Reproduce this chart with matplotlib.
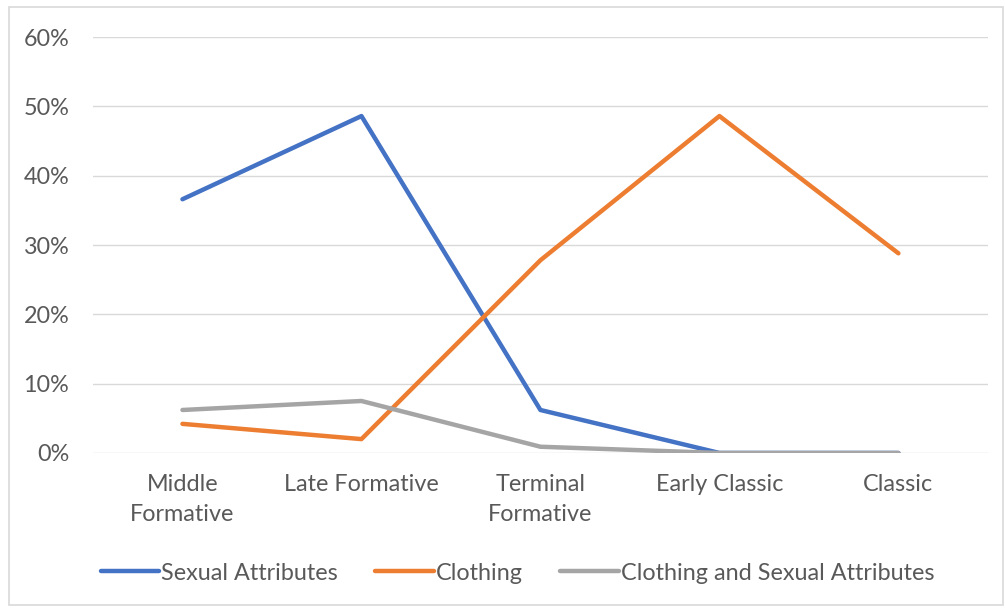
import matplotlib.pyplot as plt
from matplotlib.patches import Rectangle
from matplotlib.ticker import PercentFormatter

# Data
periods = ["Middle\nFormative", "Late Formative", "Terminal\nFormative", "Early Classic", "Classic"]
sexual = [36.6, 48.6, 6.2, 0.0, 0.0]
clothing = [4.2, 2.0, 27.8, 48.6, 28.8]
both = [6.2, 7.5, 0.9, 0.0, 0.0]

plt.rcParams["font.family"] = ["Lato", "DejaVu Sans"]
text_col = "#595959"
grid_col = "#d9d9d9"
fs = 16.8

fig = plt.figure(figsize=(10.05, 6.09), dpi=100)
ax = fig.add_axes([0.0925, 0.2562, 0.8905, 0.683])

x = range(len(periods))
ax.plot(x, sexual, color="#4472c4", lw=3.2, solid_capstyle="round", label="Sexual Attributes")
ax.plot(x, clothing, color="#ed7d31", lw=3.2, solid_capstyle="round", label="Clothing")
ax.plot(x, both, color="#a5a5a5", lw=3.2, solid_capstyle="round", label="Clothing and Sexual Attributes")

ax.set_xlim(-0.5, len(periods) - 0.5)
ax.set_ylim(0, 60)
ax.set_yticks(range(0, 61, 10))
ax.yaxis.set_major_formatter(PercentFormatter(decimals=0))
ax.set_xticks(list(x))
ax.set_xticklabels(periods, linespacing=1.55)
ax.tick_params(length=0, labelsize=fs, labelcolor=text_col)
ax.tick_params(axis="y", pad=17)
ax.tick_params(axis="x", pad=15)
ax.grid(axis="y", color=grid_col, lw=1)
ax.set_axisbelow(True)
for s in ax.spines.values():
    s.set_visible(False)

leg = fig.legend(loc="center", bbox_to_anchor=(0.515, 0.059), ncol=3, frameon=False,
                 fontsize=fs, handlelength=2.5, handletextpad=0.1, columnspacing=1.6)
for t in leg.get_texts():
    t.set_color(text_col)

# chart border
fig.patches.append(Rectangle((9 / 1005, 4 / 609), 994 / 1005, 598 / 609, transform=fig.transFigure,
                             fill=False, edgecolor=grid_col, lw=1.2))

fig.savefig("out.png", dpi=100)
